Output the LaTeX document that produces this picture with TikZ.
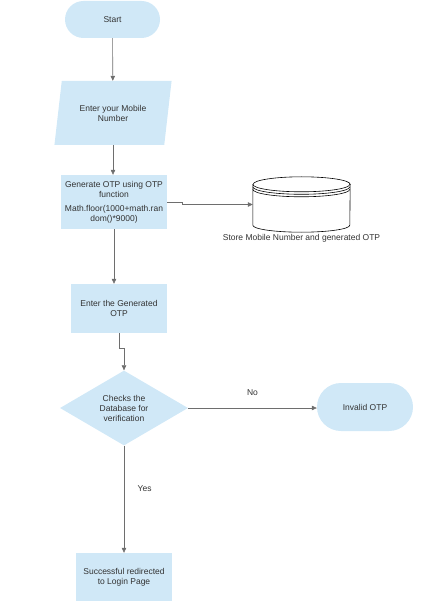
\documentclass[tikz,border=0pt]{standalone}
\usepackage{fontspec}
\setmainfont{Liberation Sans}
\usetikzlibrary{shapes.geometric,arrows.meta,positioning}
\definecolor{boxblue}{RGB}{208,232,247}
\definecolor{txtgray}{RGB}{51,51,51}
\definecolor{linegray}{RGB}{110,110,110}
\begin{document}
\begin{tikzpicture}[x=1pt,y=1pt,
    font=\fontsize{8.5}{10}\selectfont, text=txtgray,
    base/.style={fill=boxblue, align=center, inner sep=2pt},
    terminal/.style={base, rectangle, minimum width=96pt, minimum height=#1, rounded corners=#1/2},
    process/.style={base, rectangle, minimum width=96pt, minimum height=49pt},
    io/.style={base, trapezium, trapezium left angle=76, trapezium right angle=104,
      trapezium stretches=true, minimum width=118pt, minimum height=64pt},
    decision/.style={base, diamond, inner sep=0pt, minimum width=128pt, minimum height=64pt},
    flow/.style={draw=linegray, line width=0.6pt, -{Triangle[length=5pt,width=4.5pt]}}]
  \useasboundingbox (0,0) rectangle (425,-612);

  \node[terminal=37pt, minimum width=95pt] (start) at (112.5,-19.5) {Start};
  \node[io] (mobile) at (113,-113) {Enter your Mobile\\Number};
  \node[process, minimum width=106pt, minimum height=54pt] (genotp) at (114,-202)
    {Generate OTP using OTP\\function\\[4pt]Math.floor(1000+math.ran\\dom()*9000)};
  \node[minimum width=97pt, minimum height=55pt, inner sep=0pt] (store) at (301.5,-204.5) {};
  \node[process] (enterotp) at (119,-308.5) {Enter the Generated\\OTP};
  \node[decision] (check) at (124,-408) {Checks the\\Database for\\verification};
  \node[terminal=48pt] (invalid) at (365,-407) {Invalid OTP};
  \node[process, minimum height=48pt] (success) at (124,-577) {Successful redirected\\to Login Page};

  % data store drawn round its node
  \draw[fill=white, line width=0.6pt] ([yshift=-7.5pt]store.north west)
    -- ([yshift=7pt]store.south west)
    arc[start angle=180, end angle=360, x radius=48.5pt, y radius=7pt]
    -- ([yshift=-7.5pt]store.north east)
    arc[start angle=0, end angle=180, x radius=48.5pt, y radius=7.5pt];
  \foreach \dy in {0,2.5,5}
    \draw[line width=0.6pt] ([yshift=-7.5pt-\dy pt]store.north west)
      arc[start angle=180, end angle=360, x radius=48.5pt, y radius=7.5pt];
  \node[below=2pt of store.south, inner sep=0pt] (storelabel) {Store Mobile Number and generated OTP};

  \draw[flow] (start) -- (mobile);
  \draw[flow] (mobile.south) -- (mobile.south |- genotp.north);
  \draw[flow] (genotp.east) -- ++(15,0) |- (store.west);
  \draw[flow] (genotp.south) -- (genotp.south |- enterotp.north);
  \draw[flow] (enterotp.south) -- ++(0,-15) -| (check.north);
  \draw[flow] (check.east) -- (check.east -| invalid.west)
    node[midway, above=9pt] {No};
  \draw[flow] (check.south) -- (success.north)
    node[pos=0.4, right=10pt] {Yes};
\end{tikzpicture}
\end{document}
